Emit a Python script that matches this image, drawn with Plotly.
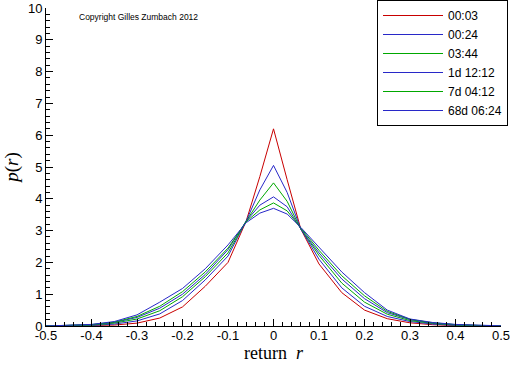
import plotly.graph_objects as go

r_vals = [-0.5, -0.45, -0.4, -0.35, -0.3, -0.25, -0.2, -0.15, -0.1, -0.06, -0.03, 0,
          0.03, 0.06, 0.1, 0.15, 0.2, 0.25, 0.3, 0.35, 0.4, 0.45, 0.5]

series_names = ["00:03", "00:24", "03:44", "1d 12:12", "7d 04:12", "68d 06:24"]
series_colors = ["#c80000", "#2828c8", "#00a800", "#2828c8", "#00a800", "#2828c8"]

p_0003 = [0.0, 0.005, 0.01, 0.03, 0.09, 0.25, 0.6, 1.25, 2.0, 3.3, 4.7, 6.2,
          4.6, 3.05, 1.95, 1.05, 0.5, 0.23, 0.1, 0.04, 0.015, 0.005, 0.0]
p_0024 = [0.0, 0.01, 0.02, 0.06, 0.16, 0.38, 0.8, 1.45, 2.2, 3.3, 4.28, 5.05,
          4.2, 3.05, 2.1, 1.2, 0.62, 0.3, 0.14, 0.06, 0.02, 0.008, 0.0]
p_0344 = [0.0, 0.01, 0.03, 0.09, 0.22, 0.48, 0.92, 1.55, 2.3, 3.3, 3.96, 4.5,
          3.92, 3.05, 2.22, 1.35, 0.75, 0.37, 0.17, 0.08, 0.03, 0.01, 0.0]
p_1d = [0.0, 0.015, 0.04, 0.11, 0.27, 0.56, 1.0, 1.62, 2.4, 3.3, 3.8, 4.06,
        3.75, 3.05, 2.3, 1.48, 0.86, 0.42, 0.2, 0.09, 0.04, 0.015, 0.005]
p_7d = [0.0, 0.015, 0.045, 0.12, 0.3, 0.62, 1.08, 1.7, 2.45, 3.28, 3.65, 3.87,
        3.62, 3.08, 2.38, 1.58, 0.95, 0.46, 0.21, 0.1, 0.045, 0.02, 0.005]
p_68d = [0.0, 0.02, 0.05, 0.14, 0.35, 0.75, 1.18, 1.8, 2.55, 3.25, 3.55, 3.7,
         3.52, 3.1, 2.48, 1.7, 1.05, 0.5, 0.22, 0.11, 0.05, 0.02, 0.005]
series_values = [p_0003, p_0024, p_0344, p_1d, p_7d, p_68d]

x_tickvals = [-0.5, -0.4, -0.3, -0.2, -0.1, 0, 0.1, 0.2, 0.3, 0.4, 0.5]
x_ticktext = ["-0.5", "-0.4", "-0.3", "-0.2", "-0.1", "0", "0.1", "0.2", "0.3", "0.4", "0.5"]
y_tickvals = [0, 1, 2, 3, 4, 5, 6, 7, 8, 9, 10]
y_ticktext = ["0", "1", "2", "3", "4", "5", "6", "7", "8", "9", "10"]

fig = go.Figure()
for name, color, vals in zip(series_names, series_colors, series_values):
    fig.add_trace(go.Scatter(x=r_vals, y=vals, mode="lines", name=name,
                             line=dict(color=color, width=1)))

axis_common = dict(showline=True, linecolor="black", linewidth=1, showgrid=False,
                   zeroline=False, ticks="inside", ticklen=7, tickcolor="black",
                   automargin=False,
                   tickfont=dict(family="Liberation Sans, Arial, sans-serif", size=13, color="black"))

PL, PR, PT, PB = 46, 501, 8, 326

fig.update_layout(
    width=512, height=366,
    margin=dict(l=PL, r=512 - PR, t=PT, b=366 - PB, autoexpand=False),
    paper_bgcolor="white", plot_bgcolor="white",
    showlegend=True,
    legend=dict(x=(377 - PL) / (PR - PL), y=1.0 + 8 / (PB - PT), xanchor="left", yanchor="top",
                bordercolor="black", borderwidth=1, bgcolor="white",
                font=dict(family="Liberation Sans, Arial, sans-serif", size=12, color="black"),
                itemwidth=60, tracegroupgap=0),
    xaxis=dict(range=[-0.5, 0.5], tickvals=x_tickvals, ticktext=x_ticktext,
               minor=dict(dtick=0.02, ticks="inside", ticklen=4, tickcolor="black"),
               ticklabelstandoff=-3,
               title=dict(text="return  <i>r</i>", standoff=0,
                          font=dict(family="Liberation Serif, Times New Roman, serif", size=18, color="black")),
               **axis_common),
    yaxis=dict(range=[0, 10], tickvals=y_tickvals, ticktext=y_ticktext,
               minor=dict(dtick=0.2, ticks="inside", ticklen=4, tickcolor="black"),
               title=dict(text="<i>p</i>(<i>r</i>)", standoff=4,
                          font=dict(family="Liberation Serif, Times New Roman, serif", size=19, color="black")),
               **axis_common),
    annotations=[dict(text="Copyright Gilles Zumbach 2012",
                      x=(77 - PL) / (PR - PL), y=(PB - 17) / (PB - PT),
                      xref="paper", yref="paper", xanchor="left", yanchor="middle",
                      showarrow=False,
                      font=dict(family="Liberation Sans, Arial, sans-serif", size=8.5, color="black"))]
)

fig.write_html("out.html", config={"displayModeBar": False},
               post_script="document.body.style.margin='0';document.body.style.overflow='hidden';")
